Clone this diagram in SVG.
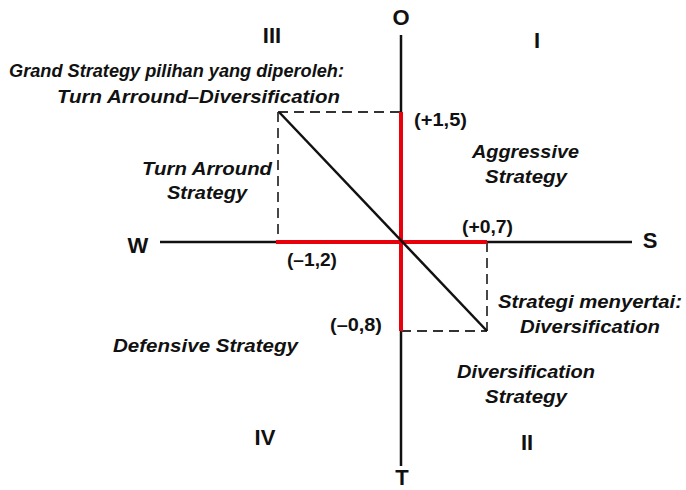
<svg xmlns="http://www.w3.org/2000/svg" width="686" height="490" viewBox="0 0 686 490">
<style>
.ax{font-family:"Liberation Sans",Arial,sans-serif;font-weight:bold;font-size:22px;fill:#111;text-anchor:middle}
.lb{font-family:"Liberation Sans",Arial,sans-serif;font-weight:bold;font-style:italic;font-size:19px;fill:#111}
.cd{font-family:"Liberation Sans",Arial,sans-serif;font-weight:bold;font-size:19px;fill:#111}
.axis{stroke:#111;stroke-width:2.5;fill:none}
.red{stroke:#e8000b;stroke-width:4;fill:none}
.dash{stroke:#333;stroke-width:1.8;stroke-dasharray:10 6;fill:none}
</style>
<rect width="686" height="490" fill="#fff"/>
<g id="connectors">
<line class="axis" x1="401" y1="35" x2="401" y2="466"/>
<line class="axis" x1="160" y1="242" x2="632" y2="242"/>
<path class="dash" d="M278 112H401M278 112V242M487 242V331M401 331H487"/>
<line class="red" x1="401" y1="112" x2="401" y2="331"/>
<line class="red" x1="276" y1="242" x2="487" y2="242"/>
<line class="axis" x1="279" y1="112" x2="487" y2="331"/>
</g>
<g id="axis-labels">
<text class="ax" x="401" y="25">O</text>
<text class="ax" x="402" y="485">T</text>
<text class="ax" x="138" y="253">W</text>
<text class="ax" x="650" y="248">S</text>
</g>
<g id="quadrants">
<text class="ax" x="272" y="43">III</text>
<text class="ax" x="537" y="48">I</text>
<text class="ax" x="265" y="445">IV</text>
<text class="ax" x="527" y="450">II</text>
</g>
<g id="grand-strategy">
<text class="lb" x="9" y="77" textLength="335" lengthAdjust="spacingAndGlyphs">Grand Strategy pilihan yang diperoleh:</text>
<text class="lb" x="57" y="103" textLength="283" lengthAdjust="spacingAndGlyphs">Turn Arround–Diversification</text>
</g>
<g id="turn-arround">
<text class="lb" x="142" y="175" textLength="130" lengthAdjust="spacingAndGlyphs">Turn Arround</text>
<text class="lb" x="167" y="199" textLength="80" lengthAdjust="spacingAndGlyphs">Strategy</text>
</g>
<g id="aggressive">
<text class="lb" x="472" y="158" textLength="107" lengthAdjust="spacingAndGlyphs">Aggressive</text>
<text class="lb" x="485" y="183" textLength="82" lengthAdjust="spacingAndGlyphs">Strategy</text>
</g>
<g id="menyertai">
<text class="lb" x="498" y="308" textLength="184" lengthAdjust="spacingAndGlyphs">Strategi menyertai:</text>
<text class="lb" x="520" y="333" textLength="140" lengthAdjust="spacingAndGlyphs">Diversification</text>
</g>
<g id="defensive">
<text class="lb" x="113" y="352" textLength="185" lengthAdjust="spacingAndGlyphs">Defensive Strategy</text>
</g>
<g id="diversification">
<text class="lb" x="457" y="378" textLength="138" lengthAdjust="spacingAndGlyphs">Diversification</text>
<text class="lb" x="485" y="403" textLength="82" lengthAdjust="spacingAndGlyphs">Strategy</text>
</g>
<g id="coordinates">
<text class="cd" x="414" y="126" textLength="53" lengthAdjust="spacingAndGlyphs">(+1,5)</text>
<text class="cd" x="462" y="233" textLength="51" lengthAdjust="spacingAndGlyphs">(+0,7)</text>
<text class="cd" x="287" y="266" textLength="50" lengthAdjust="spacingAndGlyphs">(–1,2)</text>
<text class="cd" x="330" y="331" textLength="52" lengthAdjust="spacingAndGlyphs">(–0,8)</text>
</g>
</svg>
